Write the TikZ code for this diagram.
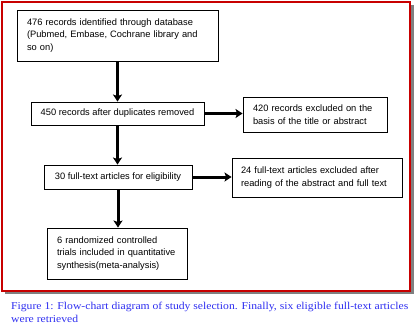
\documentclass[tikz,border=0pt]{standalone}
\usepackage{fontspec}
\setmainfont{Liberation Sans}
\newfontfamily\capfont{Liberation Serif}
\usetikzlibrary{arrows.meta}
\definecolor{framered}{RGB}{200,0,0}
\definecolor{shadowgray}{RGB}{128,128,128}
\definecolor{capblue}{RGB}{45,45,240}
\tikzset{
  box/.style={draw=black, line width=0.9pt, fill=white, inner xsep=10pt, inner ysep=2pt,
    font=\fontsize{9.3}{12.8}\selectfont, align=left},
  cbox/.style={draw=black, line width=0.9pt, fill=white, inner sep=2pt,
    font=\fontsize{9.3}{12.8}\selectfont, align=center},
  arr/.style={line width=3pt, -{Stealth[length=7pt,width=9pt,inset=1.5pt]}},
}
\begin{document}
\begin{tikzpicture}[x=1pt,y=-1pt]
\useasboundingbox (0,0) rectangle (414,332);
% frame with shadow
\fill[shadowgray] (5,5) rectangle (413.8,294);
\draw[framered, line width=2pt, fill=white] (2,2) rectangle (409.7,291);
% boxes
\node[box, minimum width=201pt, minimum height=51pt, text width=181pt] (b1) at (117.5,35.5)
  {476 records identified through database\\(Pubmed, Embase, Cochrane library and\\so on)};
\node[cbox, minimum width=173pt, minimum height=23pt] (b2) at (117.5,113.5)
  {450 records after duplicates removed};
\node[cbox, minimum width=148pt, minimum height=24pt] (b3) at (118,177)
  {30 full-text articles for eligibility};
\node[box, minimum width=144pt, minimum height=35pt, text width=124pt] (b4) at (315,114.5)
  {420 records excluded on the\\basis of the title or abstract};
\node[box, minimum width=170pt, minimum height=39pt, text width=152pt, inner xsep=9pt] (b5) at (317,177.5)
  {24 full-text articles excluded after\\reading of the abstract and full text};
\node[box, minimum width=140pt, minimum height=51pt, text width=120pt] (b6) at (117,253.5)
  {6 randomized controlled\\trials included in quantitative\\synthesis(meta-analysis)};
% connectors
\draw[arr] (b1.south) -- (b1.south |- b2.north);
\draw[arr] (b2.south) -- (b2.south |- b3.north);
\draw[arr] (b3.south) -- (b3.south |- b6.north);
\draw[arr] (b2.east) -- (b2.east -| b4.west);
\draw[arr] (b3.east) -- (b3.east -| b5.west);
% caption
\node[anchor=north west, inner sep=0pt, align=left, text=capblue,
  font=\capfont\fontsize{10.5}{13}\selectfont] (cap) at (11,302)
  {\scalebox{1.11}[1]{Figure 1: Flow-chart diagram of study selection. Finally, six eligible full-text articles}\\
   \scalebox{1.11}[1]{were retrieved}};
\end{tikzpicture}
\end{document}
